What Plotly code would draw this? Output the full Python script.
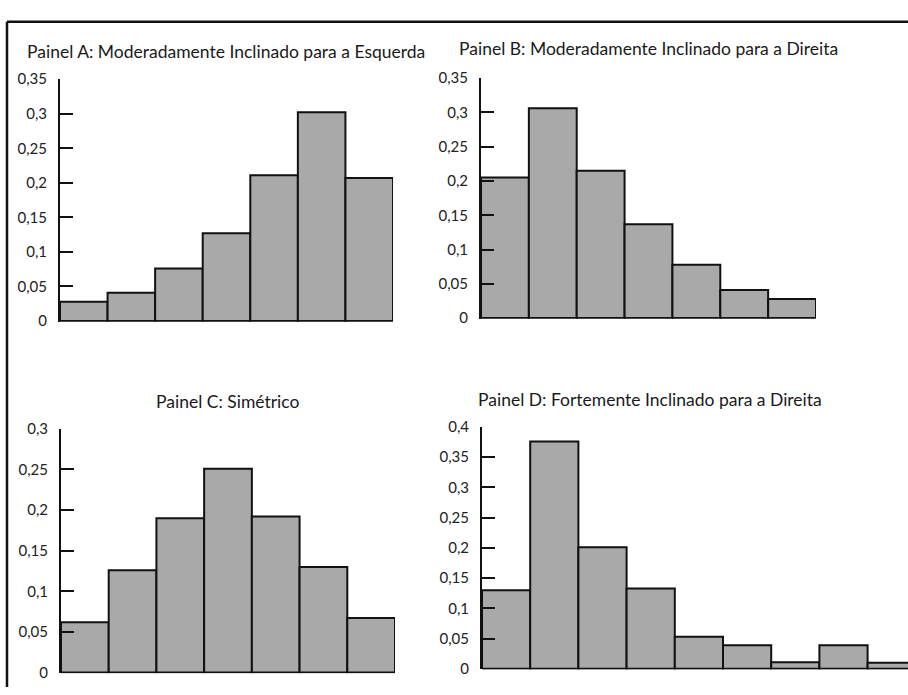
import plotly.graph_objects as go

W, H = 908, 695

# Data
bins_A = list(range(7))
vals_A = [0.028, 0.041, 0.076, 0.127, 0.211, 0.302, 0.207]
bins_B = list(range(7))
vals_B = [0.205, 0.306, 0.215, 0.137, 0.078, 0.041, 0.028]
bins_C = list(range(7))
vals_C = [0.062, 0.126, 0.190, 0.251, 0.192, 0.130, 0.067]
bins_D = list(range(9))
vals_D = [0.130, 0.376, 0.201, 0.133, 0.053, 0.039, 0.011, 0.039, 0.010]

ticks_A = [0, 0.05, 0.1, 0.15, 0.2, 0.25, 0.3, 0.35]
ticklabels_A = ["0", "0,05", "0,1", "0,15", "0,2", "0,25", "0,3", "0,35"]
ticks_C = [0, 0.05, 0.1, 0.15, 0.2, 0.25, 0.3]
ticklabels_C = ["0", "0,05", "0,1", "0,15", "0,2", "0,25", "0,3"]
ticks_D = [0, 0.05, 0.1, 0.15, 0.2, 0.25, 0.3, 0.35, 0.4]
ticklabels_D = ["0", "0,05", "0,1", "0,15", "0,2", "0,25", "0,3", "0,35", "0,4"]

titles = [
    "Painel A: Moderadamente Inclinado para a Esquerda",
    "Painel B: Moderadamente Inclinado para a Direita",
    "Painel C: Simétrico",
    "Painel D: Fortemente Inclinado para a Direita",
]

FONT = "Lato, 'Open Sans', sans-serif"
FILL = "#a9a9a9"

def px_x(p):
    return p / W

def px_y(p):
    return 1 - p / H

fig = go.Figure()

panels = [
    (bins_A, vals_A, (60, 393), (320, 71), 0.35, ticks_A, ticklabels_A, 6.5, (226, 43)),
    (bins_B, vals_B, (481, 816), (317, 70), 0.35, ticks_A, ticklabels_A, 6.5, (648, 40)),
    (bins_C, vals_C, (61, 395), (681, 430), 0.30, ticks_C, ticklabels_C, 6.5, (228, 402)),
    (bins_D, vals_D, (482, 908), (677, 428), 0.40, ticks_D, ticklabels_D, -0.5 + (908 - 482) / 48.2, (650, 400)),
]

layout_axes = {}
annotations = []
for i, (bx, vy, xd, yd, ytop, tv, tt, xmax, tpos) in enumerate(panels):
    n = i + 1
    xa = "x" if n == 1 else f"x{n}"
    ya = "y" if n == 1 else f"y{n}"
    fig.add_trace(go.Bar(
        x=bx, y=vy, width=1.0,
        marker=dict(color=FILL, line=dict(color="#111111", width=2)),
        xaxis=xa, yaxis=ya, showlegend=False,
    ))
    xkey = "xaxis" if n == 1 else f"xaxis{n}"
    ykey = "yaxis" if n == 1 else f"yaxis{n}"
    layout_axes[xkey] = dict(
        domain=[px_x(xd[0]), px_x(xd[1])], range=[-0.5, xmax],
        anchor=ya, showline=False, showticklabels=False, ticks="",
        showgrid=False, zeroline=False, fixedrange=True,
    )
    layout_axes[ykey] = dict(
        domain=[px_y(yd[0]), px_y(yd[1])], range=[-0.001, ytop],
        anchor=xa, showline=True, linecolor="#111111", linewidth=2,
        ticks="inside", ticklen=13, tickwidth=2, tickcolor="#111111",
        tickvals=tv, ticktext=tt, ticklabelstandoff=8,
        tickfont=dict(family=FONT, size=15, color="#222222"),
        showgrid=False, zeroline=False, fixedrange=True,
    )
    annotations.append(dict(
        text=titles[i], x=px_x(tpos[0]), y=px_y(tpos[1]), xref="paper", yref="paper",
        xanchor="center", yanchor="middle", showarrow=False,
        font=dict(family=FONT, size=17.5, color="#1a1a1a"),
    ))

shapes = [
    dict(type="line", xref="paper", yref="paper", x0=px_x(7), x1=1.0, y0=px_y(12), y1=px_y(12),
         line=dict(color="#111111", width=2.5)),
    dict(type="line", xref="paper", yref="paper", x0=px_x(7), x1=px_x(7), y0=px_y(12), y1=0,
         line=dict(color="#111111", width=2.5)),
]

fig.update_layout(
    width=W, height=H,
    margin=dict(l=0, r=0, t=0, b=0),
    paper_bgcolor="white", plot_bgcolor="rgba(0,0,0,0)",
    bargap=0,
    hovermode=False,
    annotations=annotations,
    shapes=shapes,
    **layout_axes,
)

fig.write_html(
    "out.html",
    config={"displayModeBar": False, "staticPlot": True},
    post_script=(
        "document.body.style.margin='0';document.body.style.overflow='hidden';"
        "var d=document.getElementById('{plot_id}');"
        "d.style.position='fixed';d.style.left='0px';d.style.top='0px';"
    ),
)
